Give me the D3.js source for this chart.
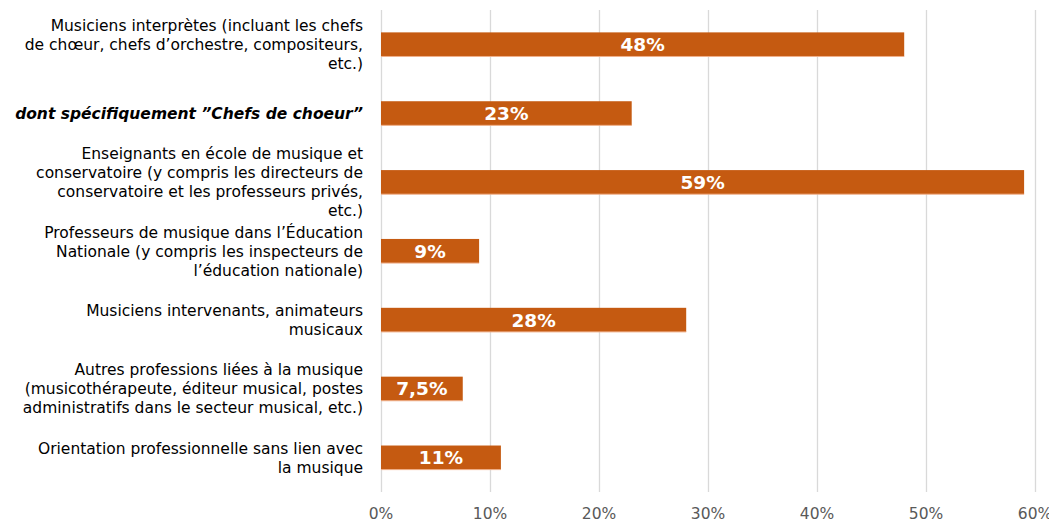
<!DOCTYPE html>
<html>
<head>
<meta charset="utf-8">
<script src="https://cdn.jsdelivr.net/npm/d3@7"></script>
<style>
  body { margin: 0; background: #fff; }
  svg { display: block; font-family: "DejaVu Sans", Verdana, sans-serif; }
</style>
</head>
<body>
<svg id="chart" width="1049" height="523"></svg>
<script>
// categories (each entry is the wrapped lines of the label)
var categories = [
  ["Musiciens interprètes (incluant les chefs", "de chœur, chefs d’orchestre, compositeurs,", "etc.)"],
  ["dont spécifiquement ”Chefs de choeur”"],
  ["Enseignants en école de musique et", "conservatoire (y compris les directeurs de", "conservatoire et les professeurs privés,", "etc.)"],
  ["Professeurs de musique dans l’Éducation", "Nationale (y compris les inspecteurs de", "l’éducation nationale)"],
  ["Musiciens intervenants, animateurs", "musicaux"],
  ["Autres professions liées à la musique", "(musicothérapeute, éditeur musical, postes", "administratifs dans le secteur musical, etc.)"],
  ["Orientation professionnelle sans lien avec", "la musique"]
];
var values = [48, 23, 59, 9, 28, 7.5, 11];
var valueLabels = ["48%", "23%", "59%", "9%", "28%", "7,5%", "11%"];
var tickValues = [0, 10, 20, 30, 40, 50, 60];

const svg = d3.select("#chart"),
    margin = {top: 10, right: 14, bottom: 31, left: 381},
    width = +svg.attr("width"),
    height = +svg.attr("height");

const x = d3.scaleLinear()
    .domain([0, 60])
    .range([margin.left, width - margin.right]);

const y = d3.scaleBand()
    .domain(d3.range(categories.length))
    .range([margin.top, height - margin.bottom])
    .paddingInner(0.65)
    .paddingOuter(0.325);

// gridlines
svg.append("g")
    .selectAll("line")
    .data(tickValues)
    .join("line")
    .attr("x1", d => x(d) + 0.5)
    .attr("x2", d => x(d) + 0.5)
    .attr("y1", margin.top)
    .attr("y2", height - margin.bottom)
    .attr("stroke", "#d9d9d9")
    .attr("stroke-width", 1.3);

// x axis tick labels
svg.append("g")
    .selectAll("text")
    .data(tickValues)
    .join("text")
    .attr("x", d => x(d))
    .attr("y", 519)
    .attr("text-anchor", "middle")
    .attr("fill", "#595959")
    .style("font-size", "15.5px")
    .text(d => d + "%");

// bars
svg.append("g")
    .selectAll("rect")
    .data(values)
    .join("rect")
    .attr("x", x(0))
    .attr("y", (d, i) => y(i))
    .attr("width", d => x(d) - x(0))
    .attr("height", y.bandwidth())
    .attr("fill", "#c55a11");

// light edge under each bar
svg.append("g")
    .selectAll("line")
    .data(values)
    .join("line")
    .attr("x1", x(0))
    .attr("x2", d => x(d))
    .attr("y1", (d, i) => y(i) + y.bandwidth())
    .attr("y2", (d, i) => y(i) + y.bandwidth())
    .attr("stroke", "#f0b08a")
    .attr("stroke-width", 1);

// value labels
svg.append("g")
    .selectAll("text")
    .data(values)
    .join("text")
    .attr("x", d => (x(0) + x(d)) / 2)
    .attr("y", (d, i) => y(i) + y.bandwidth() / 2)
    .attr("dy", "0.36em")
    .attr("text-anchor", "middle")
    .attr("fill", "#ffffff")
    .style("font-size", "18.5px")
    .style("font-weight", "bold")
    .text((d, i) => valueLabels[i]);

// category labels
const lineH = 19;
const labels = svg.append("g")
    .selectAll("text")
    .data(categories)
    .join("text")
    .attr("text-anchor", "end")
    .attr("fill", "#000")
    .style("font-size", "15.5px")
    .style("font-style", (d, i) => i === 1 ? "italic" : "normal")
    .style("font-weight", (d, i) => i === 1 ? "bold" : "normal");

labels.each(function (lines, i) {
    const cy = y(i) + y.bandwidth() / 2;
    const top = cy - (lines.length - 1) * lineH / 2;
    d3.select(this).selectAll("tspan")
        .data(lines)
        .join("tspan")
        .attr("x", 363)
        .attr("y", (d, j) => top + j * lineH)
        .attr("dy", "0.36em")
        .text(d => d);
});
</script>
</body>
</html>
